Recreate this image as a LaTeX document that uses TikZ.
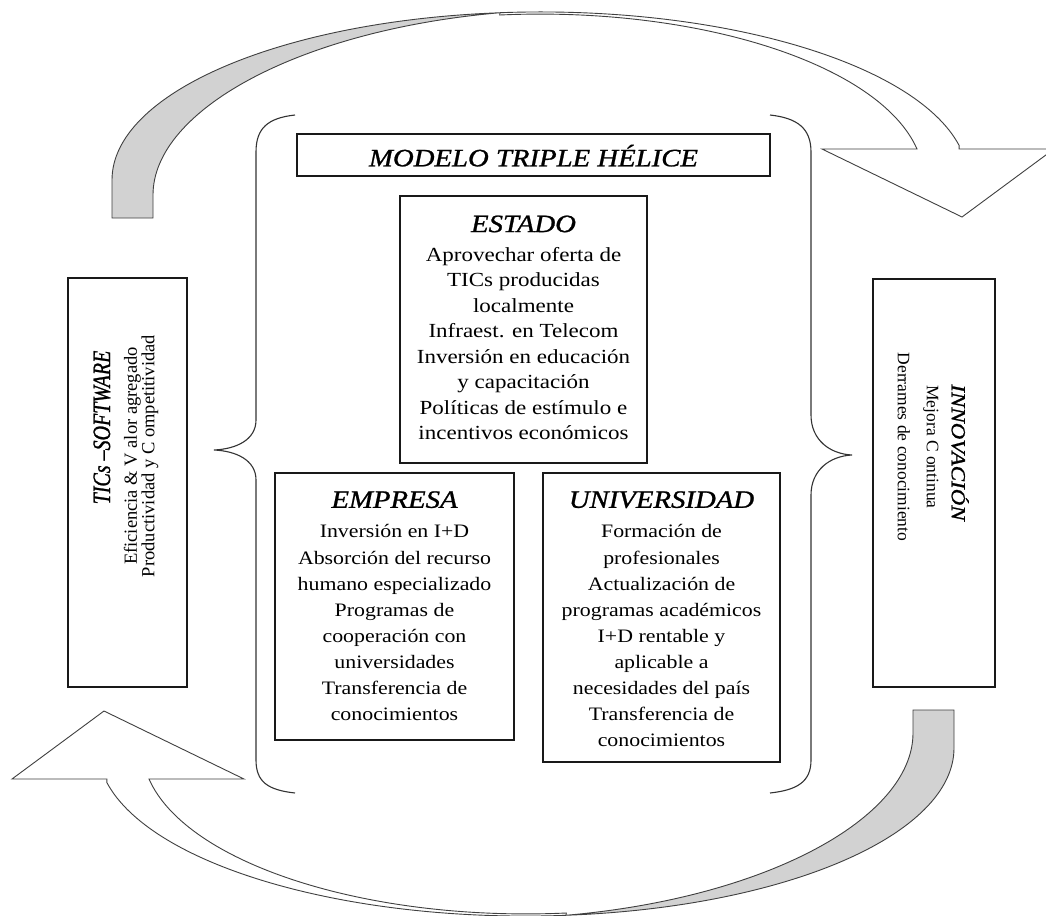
\documentclass[tikz,border=0pt]{standalone}
\usepackage{fontspec}
\setmainfont{Liberation Serif}
\newfontfamily\bodyfont{Liberation Serif}[FakeStretch=1.15]
\newfontfamily\sidebody{Liberation Serif}
\newfontfamily\headfont{Liberation Serif}[FakeStretch=1.15,FakeBold=1]
\newfontfamily\sidehead{Liberation Serif}[FakeStretch=0.8,FakeBold=1]

% heading line inside a box
\newcommand\hd[1]{{\headfont\itshape\fontsize{25}{25}\selectfont #1}}

% curved ribbon arrow: grey back face on the left, white front face with head on the right
\newcommand\cyclearrow{%
  \path[ribbon,fill=gray!35] (112,218) -- (112,180)
    arc[start angle=-180,end angle=-95.4,x radius=428,y radius=168]
    .. controls (300,30) and (153,110) .. (153,195) -- (153,218) -- cycle;
  \path[ribbon,fill=white] (500,12.7)
    arc[start angle=-95.4,end angle=-11.8,x radius=428,y radius=168]
    -- (959,149) -- (1054,149) -- (962,217) -- (822,149) -- (917,149)
    arc[start angle=-10.8,end angle=-96,x radius=384,y radius=166] -- cycle;
}

\begin{document}
\begin{tikzpicture}[x=1pt,y=-1pt,
  box/.style={draw=black!90, line width=1.3pt, inner sep=0pt},
  ribbon/.style={draw=black!75, line width=0.9pt, line join=miter},
  bracket/.style={draw=black!80, line width=1.1pt},
  txt/.style={inner sep=0pt, align=center}]

\useasboundingbox[fill=white] (0,0) rectangle (1046,915);

% the two cycle arrows
\begin{scope}
  \cyclearrow
\end{scope}
\begin{scope}[rotate around={180:(533,464)}]
  \cyclearrow
\end{scope}

% large braces around the model
\draw[bracket] (295,115) .. controls (268,118) and (256,128) .. (256,152)
  -- (256,420) .. controls (256,440) and (236,449) .. (214,450)
  .. controls (236,451) and (256,460) .. (256,480)
  -- (256,760) .. controls (256,782) and (268,790) .. (295,793);
\draw[bracket] (770,115) .. controls (797,118) and (811,128) .. (811,152)
  -- (811,415) .. controls (811,440) and (830,454) .. (852,455)
  .. controls (830,456) and (811,470) .. (811,495)
  -- (811,760) .. controls (811,782) and (797,790) .. (770,793);

% title
\node[box, minimum width=473pt, minimum height=42pt] (title) at (533.5,155) {};
\node[inner sep=0pt, anchor=base, font=\headfont\itshape\fontsize{25}{25}\selectfont]
  (titletext) at (533.5,166.3) {MODELO TRIPLE HÉLICE};

% the three helices
\node[box, minimum width=247pt, minimum height=267pt] (estado) at (523.5,329.5) {};
\node[txt, anchor=north, font=\bodyfont\fontsize{20}{25.5}\selectfont]
  (estadotext) at ([yshift=-20pt]estado.north)
  {\hd{ESTADO}\\[3.5pt]Aprovechar oferta de\\TICs producidas\\localmente\\Infraest. en Telecom\\Inversión en educación\\y capacitación\\Políticas de estímulo e\\incentivos económicos};

\node[box, minimum width=239pt, minimum height=267pt] (empresa) at (394.5,606.5) {};
\node[txt, anchor=north, font=\bodyfont\fontsize{19}{26.1}\selectfont]
  (empresatext) at ([yshift=-18.7pt]empresa.north)
  {\hd{EMPRESA}\\[4pt]Inversión en I+D\\Absorción del recurso\\humano especializado\\Programas de\\cooperación con\\universidades\\Transferencia de\\conocimientos};

\node[box, minimum width=237pt, minimum height=289pt] (univ) at (661.5,617.5) {};
\node[txt, anchor=north, font=\bodyfont\fontsize{19}{26.1}\selectfont]
  (univtext) at ([yshift=-18.7pt]univ.north)
  {\hd{UNIVERSIDAD}\\[4pt]Formación de\\profesionales\\Actualización de\\programas académicos\\I+D rentable y\\aplicable a\\necesidades del país\\Transferencia de\\conocimientos};

% side boxes
\node[box, minimum width=119pt, minimum height=409pt] (tics) at (127.5,482.5) {};
\node[inner sep=0pt, rotate=90, anchor=base, font=\sidehead\itshape\fontsize{25}{25}\selectfont]
  (ticshead) at (110,427.5) {TICs –SOFTWARE};
\node[txt, rotate=90, font=\sidebody\fontsize{18.5}{17.5}\selectfont]
  (ticsbody) at (141,456) {Eficiencia \& V alor agregado\\Productividad y C ompetitividad};

\node[box, minimum width=122pt, minimum height=408pt] (innov) at (934,483) {};
\node[inner sep=0pt, rotate=-90, anchor=base, font=\headfont\itshape\fontsize{20}{20}\selectfont]
  (innovhead) at (951.7,452.5) {INNOVACIÓN};
\node[txt, rotate=-90, font=\sidebody\fontsize{17.5}{29}\selectfont]
  (innovbody) at (918,447) {Mejora C ontinua\\Derrames de conocimiento};

\end{tikzpicture}
\end{document}
